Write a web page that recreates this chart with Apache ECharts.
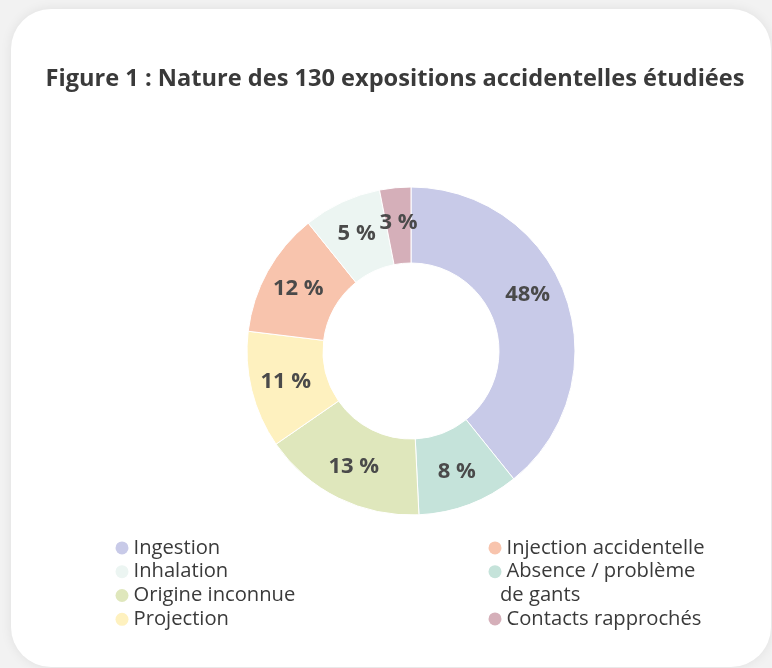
<!DOCTYPE html>
<html>
<head>
    <meta charset="utf-8">
    <title>Figure 1</title>
    <script src="https://cdn.jsdelivr.net/npm/echarts@6/dist/echarts.min.js"></script>
    <style>
        body {
            margin: 0;
            background: #f2f2f2;
            width: 772px;
            height: 668px;
            overflow: hidden;
            position: relative;
        }
        .card {
            position: absolute;
            left: 11px;
            top: 9px;
            width: 760px;
            height: 658px;
            background: #fff;
            border-radius: 40px;
            box-shadow: 0 0 12px rgba(0, 0, 0, 0.08);
        }
        #chart {
            position: absolute;
            left: 0;
            top: 0;
            width: 772px;
            height: 668px;
        }
    </style>
</head>
<body>
    <div class="card"></div>
    <div id="chart"></div>

    <script>
    // ordre des parts dans le sens horaire, depuis midi
    const categories = ['Ingestion', 'Absence / problème de gants', 'Origine inconnue', 'Projection',
                        'Injection accidentelle', 'Inhalation', 'Contacts rapprochés'];
    const values = [51, 13, 21, 15, 16, 10, 4];
    const labels = ['48%', '8 %', '13 %', '11 %', '12 %', '5 %', '3 %'];
    const colors = ['#c8cae8', '#c5e3da', '#dfe7bc', '#fef1bf', '#f8c4ad', '#ecf5f2', '#d5afb9'];

    const legendLeft = ['Ingestion', 'Inhalation', 'Origine inconnue', 'Projection'];
    const legendRight = ['Injection accidentelle', 'Absence / problème de gants'];
    const legendRightLast = ['Contacts rapprochés'];

    const chart = echarts.init(document.getElementById('chart'));

    const textStyle = {
        fontFamily: 'Open Sans',
        fontSize: 20.2,
        color: '#3a3a3a',
        lineHeight: 23.8
    };

    const legendStyle = {
        orient: 'vertical',
        icon: 'circle',
        itemWidth: 13,
        itemHeight: 13,
        itemGap: 0,
        padding: 0,
        selectedMode: false,
        itemStyle: { borderWidth: 0 },
        textStyle: textStyle,
        // le retour à la ligne de "de gants" est dessiné à part (décalé comme dans l'original)
        formatter: name => name === 'Absence / problème de gants' ? 'Absence / problème' : name
    };

    chart.setOption({
        animation: false,
        title: {
            text: 'Figure 1 : Nature des 130 expositions accidentelles étudiées',
            left: 390,
            textAlign: 'center',
            top: 62,
            textStyle: {
                fontFamily: 'Open Sans',
                fontWeight: 'bold',
                fontSize: 23.6,
                color: '#3a3a3a'
            }
        },
        legend: [
            Object.assign({ left: 115.5, top: 536, data: legendLeft }, legendStyle),
            Object.assign({ left: 488.5, top: 536, data: legendRight }, legendStyle),
            Object.assign({ left: 488.5, top: 607, data: legendRightLast }, legendStyle)
        ],
        graphic: [{
            type: 'text',
            left: 500,
            top: 585,
            style: {
                text: 'de gants',
                fill: '#3a3a3a',
                font: '20.2px "Open Sans"'
            }
        }],
        series: [{
            type: 'pie',
            center: [411, 351],
            radius: [88, 164],
            startAngle: 90,
            clockwise: true,
            itemStyle: { borderColor: '#fff', borderWidth: 1 },
            label: {
                show: true,
                position: 'inside',
                // ligne vide sous "48%" : l'étiquette est un peu plus haute dans l'original
                formatter: p => p.dataIndex === 0 ? labels[0] + '\n' : labels[p.dataIndex],
                fontFamily: 'Open Sans',
                fontWeight: 'bold',
                fontSize: 22,
                lineHeight: 26,
                color: '#4a4a4a'
            },
            labelLine: { show: false },
            emphasis: { disabled: true },
            data: categories.map((name, i) => ({
                name: name,
                value: values[i],
                itemStyle: { color: colors[i] },
                label: i === 0 ? { padding: [0, 10, 0, 0] } : undefined
            }))
        }]
    });
    </script>
</body>
</html>
